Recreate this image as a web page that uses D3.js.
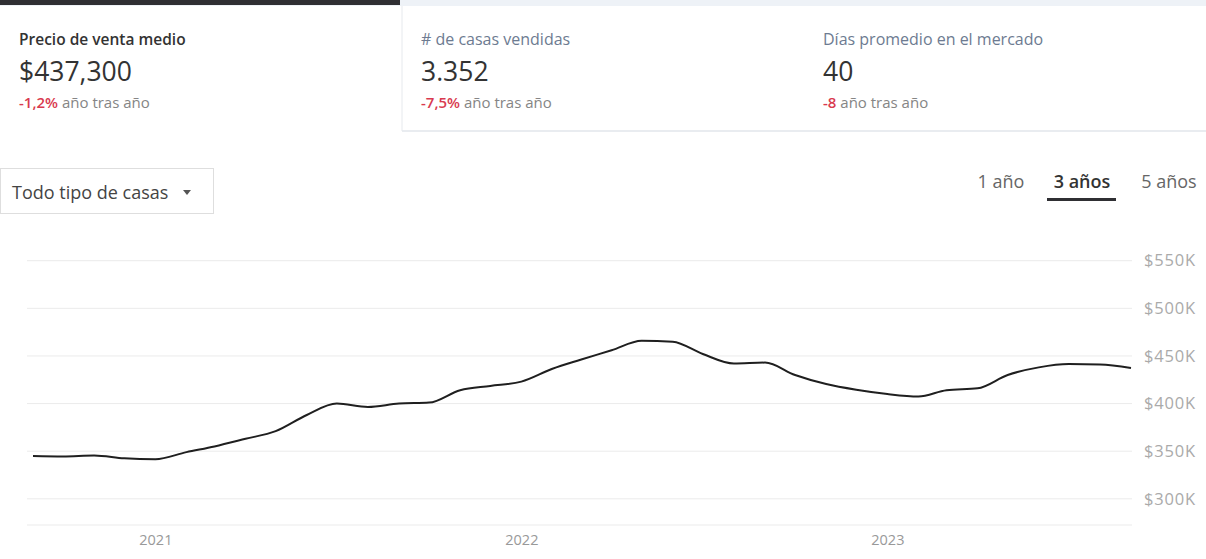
<!DOCTYPE html>
<html>
<head>
<meta charset="utf-8">
<script src="https://cdn.jsdelivr.net/npm/d3@7"></script>
<style>
  body { margin: 0; background: #fff; font-family: 'Open Sans', Lato, sans-serif; }
  svg { display: block; }
</style>
</head>
<body>
<div id="vis"></div>
<script>
const visWidth = 1206;
const visHeight = 559;

// monthly median sale price, Sep 2020 .. Sep 2023
const months = [
  '2020-09', '2020-10', '2020-11', '2020-12',
  '2021-01', '2021-02', '2021-03', '2021-04', '2021-05', '2021-06',
  '2021-07', '2021-08', '2021-09', '2021-10', '2021-11', '2021-12',
  '2022-01', '2022-02', '2022-03', '2022-04', '2022-05', '2022-06',
  '2022-07', '2022-08', '2022-09', '2022-10', '2022-11', '2022-12',
  '2023-01', '2023-02', '2023-03', '2023-04', '2023-05', '2023-06',
  '2023-07', '2023-08', '2023-09'
];
const prices = [
  345000, 344500, 345500, 342500,
  341500, 349000, 355000, 363000, 371000, 388000,
  400000, 396500, 400000, 401000, 414000, 418500,
  423000, 436500, 446000, 456000, 466000, 465000,
  452000, 442000, 443000, 430000, 420500, 414500,
  410000, 407500, 414000, 416000, 430000, 438000,
  441500, 441000, 437300
];

const yTicks = [300000, 350000, 400000, 450000, 500000, 550000];
const xTicks = ['2021-01', '2022-01', '2023-01'];

const tabs = [
  {title: 'Precio de venta medio', value: '$437,300', change: '-1,2%'},
  {title: '# de casas vendidas', value: '3.352', change: '-7,5%'},
  {title: 'Días promedio en el mercado', value: '40', change: '-8'}
];
const ranges = ['1 año', '3 años', '5 años'];
const activeRange = '3 años';

const parse = d3.timeParse('%Y-%m');
const data = months.map((m, i) => ({date: parse(m), value: prices[i]}));

const svg = d3.select('#vis').append('svg')
    .attr('width', visWidth)
    .attr('height', visHeight);

// ---- top tabs
svg.append('rect')
    .attr('width', visWidth)
    .attr('height', 6)
    .attr('fill', '#eef2f7');

const tabX = d3.scaleBand()
    .domain(d3.range(tabs.length))
    .range([0, visWidth]);

svg.append('rect')
    .attr('x', tabX(1))
    .attr('y', 130)
    .attr('width', visWidth - tabX(1))
    .attr('height', 2)
    .attr('fill', '#e9ecf0');

svg.append('line')
    .attr('x1', tabX(1)).attr('x2', tabX(1))
    .attr('y1', 6).attr('y2', 131)
    .attr('stroke', '#e6e9ed');

svg.append('rect')
    .attr('x', 0)
    .attr('y', 0)
    .attr('width', tabX.bandwidth() - 2)
    .attr('height', 5)
    .attr('fill', '#2f2f33');

const tab = svg.selectAll('.tab')
  .data(tabs)
  .join('g')
    .attr('class', 'tab')
    .attr('transform', (d, i) => `translate(${tabX(i) + 19}, 0)`);

tab.append('text')
    .attr('y', 45)
    .attr('font-size', (d, i) => i === 0 ? 15.5 : 16)
    .attr('font-weight', (d, i) => i === 0 ? 600 : 400)
    .attr('fill', (d, i) => i === 0 ? '#333' : '#6d7b91')
    .text(d => d.title);

tab.append('text')
    .attr('y', 81)
    .attr('font-size', 26.5)
    .attr('fill', '#333')
    .text(d => d.value);

const chg = tab.append('text')
    .attr('y', 108)
    .attr('font-size', 15);
chg.append('tspan')
    .attr('fill', '#d93a4f')
    .attr('font-weight', 600)
    .text(d => d.change);
chg.append('tspan')
    .attr('fill', '#858585')
    .text(' año tras año');

// ---- dropdown
svg.append('rect')
    .attr('x', 0.5)
    .attr('y', 168.5)
    .attr('width', 213)
    .attr('height', 45)
    .attr('fill', '#fff')
    .attr('stroke', '#dedede');

svg.append('text')
    .attr('x', 12)
    .attr('y', 199)
    .attr('font-size', 18)
    .attr('fill', '#444')
    .text('Todo tipo de casas');

svg.append('path')
    .attr('d', 'M183,190 L191,190 L187,195 Z')
    .attr('fill', '#555');

// ---- range selector
const rangeX = d3.scalePoint()
    .domain(ranges)
    .range([1001, 1169]);

svg.selectAll('.range')
  .data(ranges)
  .join('text')
    .attr('class', 'range')
    .attr('x', d => rangeX(d) - (d === activeRange ? 3 : 0))
    .attr('y', 188)
    .attr('text-anchor', 'middle')
    .attr('font-size', 18)
    .attr('font-weight', d => d === activeRange ? 600 : 400)
    .attr('fill', d => d === activeRange ? '#333' : '#666')
    .text(d => d);

svg.append('rect')
    .attr('x', rangeX(activeRange) - 38)
    .attr('y', 198)
    .attr('width', 69)
    .attr('height', 3)
    .attr('fill', '#2f2f33');

// ---- chart
const x = d3.scaleTime()
    .domain(d3.extent(data, d => d.date))
    .range([33, 1131]);

const y = d3.scaleLinear()
    .domain([272500, 550000])
    .range([525, 260.7]);

svg.append('g')
  .selectAll('line')
  .data(yTicks)
  .join('line')
    .attr('x1', 27)
    .attr('x2', 1132)
    .attr('y1', d => y(d))
    .attr('y2', d => y(d))
    .attr('stroke', '#ebebeb');

svg.append('line')
    .attr('x1', 27)
    .attr('x2', 1132)
    .attr('y1', y(272500))
    .attr('y2', y(272500))
    .attr('stroke', '#ebebeb');

svg.append('g')
    .attr('transform', 'translate(1144, 0)')
    .call(d3.axisRight(y).tickValues(yTicks).tickSize(0).tickPadding(0)
      .tickFormat(d => `$${d / 1000}K`))
    .call(g => g.select('.domain').remove())
    .call(g => g.selectAll('text')
      .attr('font-family', "'Open Sans', sans-serif")
      .attr('font-size', 16.5)
      .attr('letter-spacing', 0.8)
      .attr('fill', '#aaa'));

svg.append('g')
    .attr('transform', 'translate(0, 535)')
    .call(d3.axisBottom(x).tickValues(xTicks.map(parse)).tickSize(0).tickPadding(0)
      .tickFormat(d3.timeFormat('%Y')))
    .call(g => g.select('.domain').remove())
    .call(g => g.selectAll('text')
      .attr('dy', '0.71em')
      .attr('font-family', "'Open Sans', sans-serif")
      .attr('font-size', 14.5)
      .attr('fill', '#999'));

const line = d3.line()
    .x(d => x(d.date))
    .y(d => y(d.value))
    .curve(d3.curveMonotoneX);

svg.append('path')
    .datum(data)
    .attr('d', line)
    .attr('fill', 'none')
    .attr('stroke', '#1f1f1f')
    .attr('stroke-width', 2);
</script>
</body>
</html>
